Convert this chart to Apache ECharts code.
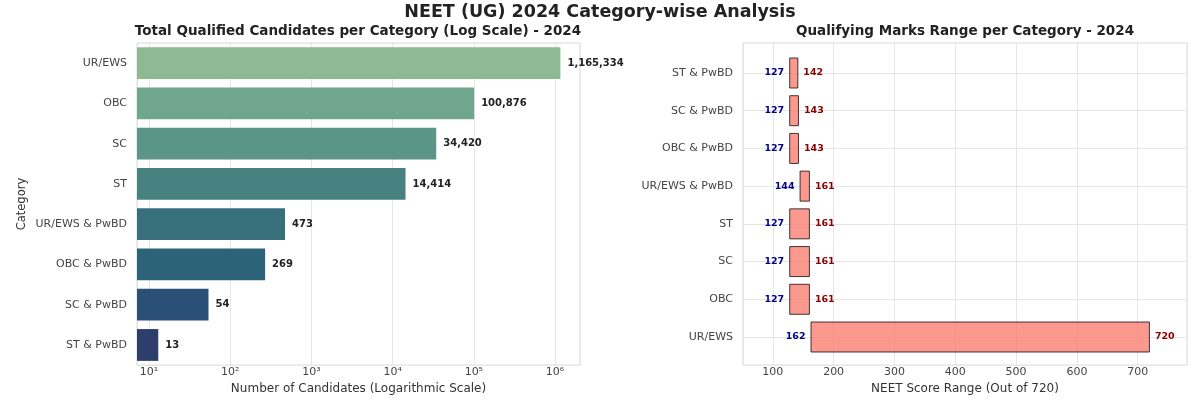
<!DOCTYPE html>
<html lang="en">
<head>
    <meta charset="utf-8">
    <title>NEET (UG) 2024 Category-wise Analysis</title>
    <script type="text/javascript" src="https://cdn.jsdelivr.net/npm/echarts@6/dist/echarts.min.js"></script>
    <style>
        html, body { margin: 0; padding: 0; background: #fff; }
        #main { width: 1200px; height: 400px; }
    </style>
</head>
<body>
<div id="main"></div>
<script>
    // categories, listed from first to last (top to bottom on the left panel)
    var categories = ['UR/EWS', 'OBC', 'SC', 'ST', 'UR/EWS & PwBD', 'OBC & PwBD', 'SC & PwBD', 'ST & PwBD'];
    // total qualified candidates
    var candidates = [1165334, 100876, 34420, 14414, 473, 269, 54, 13];
    // qualifying marks range
    var minMarks = [162, 127, 127, 127, 144, 127, 127, 127];
    var maxMarks = [720, 161, 161, 161, 161, 143, 143, 142];
    // crest-like palette for the left bars
    var palette = ['#8FB993', '#70A78C', '#5B9587', '#478280', '#37707B', '#2D6378', '#2B5077', '#2E3E6C'];

    var font = 'DejaVu Sans';
    var gridColor = '#e6e6e6';
    var sup = {'0': '⁰', '1': '¹', '2': '²', '3': '³', '4': '⁴', '5': '⁵', '6': '⁶', '7': '⁷', '8': '⁸', '9': '⁹'};

    var spanMarks = maxMarks.map(function (v, i) { return v - minMarks[i]; });

    var chart = echarts.init(document.getElementById('main'));
    var option = {
        animation: false,
        textStyle: { fontFamily: font },
        title: [
            { text: 'NEET (UG) 2024 Category-wise Analysis', left: 600, top: 3, textAlign: 'center', padding: 0,
              textStyle: { fontSize: 17.5, fontWeight: 'bold', color: '#222', fontFamily: font } },
            { text: 'Total Qualified Candidates per Category (Log Scale) - 2024', left: 358, top: 24, textAlign: 'center', padding: 0,
              textStyle: { fontSize: 13.5, fontWeight: 'bold', color: '#222', fontFamily: font } },
            { text: 'Qualifying Marks Range per Category - 2024', left: 965, top: 24, textAlign: 'center', padding: 0,
              textStyle: { fontSize: 13.5, fontWeight: 'bold', color: '#222', fontFamily: font } }
        ],
        grid: [
            { left: 137, right: 620, top: 43, bottom: 32, show: true, borderColor: '#d9d9d9', borderWidth: 1 },
            { left: 743, right: 13, top: 43, bottom: 33, show: true, borderColor: '#d9d9d9', borderWidth: 1 },
            { left: 743, right: 13, top: 73, bottom: 63 }
        ],
        xAxis: [
            {
                gridIndex: 0, type: 'log', logBase: 10, min: 7.11, max: 2030000,
                name: 'Number of Candidates (Logarithmic Scale)', nameLocation: 'middle', nameGap: 11,
                nameTextStyle: { fontSize: 12, color: '#333' },
                axisLine: { show: false }, axisTick: { show: false },
                axisLabel: {
                    fontSize: 11, color: '#444', margin: 2, showMinLabel: false, showMaxLabel: false,
                    formatter: function (v) {
                        var p = String(Math.round(Math.log10(v)));
                        return '10' + p.split('').map(function (c) { return sup[c] || c; }).join('');
                    }
                },
                splitLine: { show: true, lineStyle: { color: gridColor, width: 1 } }
            },
            {
                gridIndex: 1, type: 'value', min: 51, max: 781, splitNumber: 7,
                name: 'NEET Score Range (Out of 720)', nameLocation: 'middle', nameGap: 11,
                nameTextStyle: { fontSize: 12, color: '#333' },
                axisLine: { show: false }, axisTick: { show: false },
                axisLabel: { fontSize: 11, color: '#444', margin: 2, showMinLabel: false, showMaxLabel: false },
                splitLine: { show: true, lineStyle: { color: gridColor, width: 1 } }
            },
            { gridIndex: 2, type: 'value', min: 51, max: 781, show: false }
        ],
        yAxis: [
            {
                gridIndex: 0, type: 'category', data: categories, inverse: true,
                name: 'Category', nameLocation: 'middle', nameGap: 109,
                nameTextStyle: { fontSize: 11.5, color: '#333' },
                axisLine: { show: false }, axisTick: { show: false },
                axisLabel: { fontSize: 11, color: '#444', margin: 10, interval: 0 }
            },
            { gridIndex: 1, type: 'value', show: false },
            {
                gridIndex: 2, type: 'category', data: categories, boundaryGap: false,
                axisLine: { show: false }, axisTick: { show: false },
                axisLabel: { fontSize: 11, color: '#444', margin: 10, interval: 0 },
                splitLine: { show: true, interval: 0, lineStyle: { color: gridColor, width: 1 } }
            }
        ],
        series: [
            {
                type: 'bar', xAxisIndex: 0, yAxisIndex: 0,
                data: candidates.map(function (v, i) { return { value: v, itemStyle: { color: palette[i] } }; }),
                barCategoryGap: '21%',
                label: {
                    show: true, position: 'right', distance: 7,
                    fontSize: 10, fontWeight: 'bold', color: '#222',
                    formatter: function (p) { return p.value.toLocaleString('en-US'); }
                }
            },
            {
                type: 'bar', xAxisIndex: 2, yAxisIndex: 2, stack: 'range', barWidth: 31, silent: true,
                data: minMarks,
                itemStyle: { color: 'transparent', borderWidth: 0 },
                label: {
                    show: true, position: 'insideRight', distance: 5,
                    fontSize: 9.5, fontWeight: 'bold', color: '#00008B'
                }
            },
            {
                type: 'bar', xAxisIndex: 2, yAxisIndex: 2, stack: 'range', barWidth: 31,
                data: spanMarks,
                itemStyle: { color: 'rgba(250,128,114,0.8)', borderColor: 'rgba(0,0,0,0.75)', borderWidth: 1 },
                label: {
                    show: true, position: 'right', distance: 5,
                    fontSize: 9.5, fontWeight: 'bold', color: '#8B0000',
                    formatter: function (p) { return maxMarks[p.dataIndex]; }
                }
            }
        ]
    };
    chart.setOption(option);
</script>
</body>
</html>
